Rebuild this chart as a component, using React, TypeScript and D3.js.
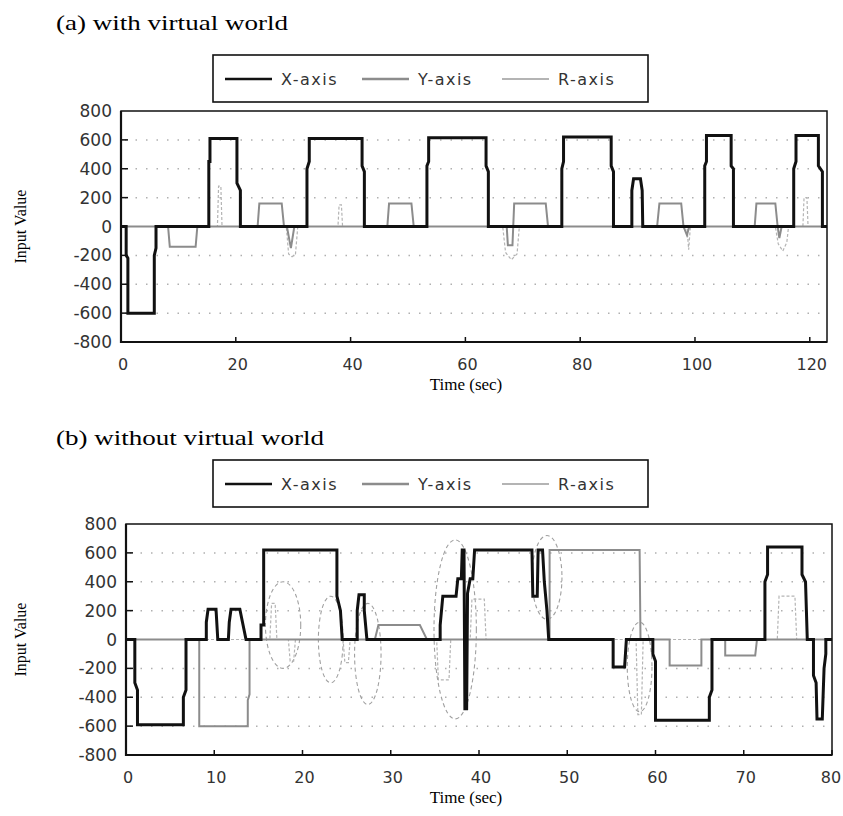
import React, { useEffect, useRef } from "react";
import * as d3 from "d3";

type Pt = [number, number];

const WIDTH = 843;
const HEIGHT = 816;

const valueTicks = [-800, -600, -400, -200, 0, 200, 400, 600, 800];
const dotLevels = [-600, -400, -200, 200, 400, 600];
const legendNames = ["X-axis", "Y-axis", "R-axis"];

// (a) with virtual world
const timeTicksA = [0, 20, 40, 60, 80, 100, 120];
const xSeriesA: Pt[] = [
  [0, 0], [0.9, 0], [0.9, -200], [1.2, -220], [1.2, -600], [5.8, -600], [5.8, -200], [6.1, -150], [6.1, 0],
  [15.3, 0], [15.3, 450], [15.5, 450], [15.5, 610], [20.2, 610], [20.2, 300], [20.8, 250], [20.8, 0],
  [32.4, 0], [32.4, 400], [32.8, 450], [32.8, 610], [42.0, 610], [42.0, 420], [42.4, 380], [42.4, 0],
  [53.3, 0], [53.3, 420], [53.6, 450], [53.6, 615], [63.6, 615], [63.6, 420], [64.0, 380], [64.0, 0],
  [76.8, 0], [76.8, 400], [77.1, 450], [77.1, 620], [85.4, 620], [85.4, 420], [85.8, 380], [85.8, 0],
  [89.0, 0], [89.0, 250], [89.3, 330], [90.5, 330], [90.8, 250], [90.9, 0],
  [101.7, 0], [101.7, 420], [102.0, 450], [102.0, 630], [106.3, 630], [106.3, 420], [106.7, 400], [106.7, 0],
  [117.2, 0], [117.2, 400], [117.6, 450], [117.6, 630], [121.5, 630], [121.5, 420], [122.2, 380], [122.2, 0], [123, 0],
];
const ySeriesA: Pt[] = [
  [0, 0], [8.2, 0], [8.5, -140], [13.0, -140], [13.3, 0],
  [23.8, 0], [24.1, 160], [28.0, 160], [28.4, 0], [28.9, 0], [29.6, -150], [30.2, 0],
  [46.4, 0], [46.7, 160], [50.6, 160], [51.0, 0],
  [67.2, 0], [67.4, -130], [68.2, -130], [68.5, 160], [74.0, 160], [74.4, 0],
  [93.4, 0], [93.8, 160], [97.6, 160], [98.0, 0], [98.6, -60], [99.0, 0],
  [110.4, 0], [110.7, 160], [114.0, 160], [114.4, 0], [114.7, -80], [115.1, 0], [123, 0],
];
const rSeriesA: Pt[] = [
  [0, 0], [16.8, 0], [17.0, 280], [17.4, 280], [17.6, 0],
  [28.8, 0], [29.2, -190], [29.8, -210], [30.4, -190], [30.8, 0],
  [37.8, 0], [38.0, 150], [38.4, 150], [38.6, 0],
  [66.5, 0], [67.0, -180], [68.0, -230], [69.0, -190], [69.4, 0],
  [98.6, 0], [98.9, -160], [99.2, 0],
  [114.0, 0], [114.5, -120], [115.3, -170], [116.0, -110], [116.3, 0],
  [118.8, 0], [119.0, 200], [119.5, 200], [119.7, 0], [123, 0],
];

// (b) without virtual world
const timeTicksB = [0, 10, 20, 30, 40, 50, 60, 70, 80];
const xSeriesB: Pt[] = [
  [0, 0], [1.0, 0], [1.0, -300], [1.3, -350], [1.3, -590], [6.5, -590], [6.5, -400], [6.8, -350], [6.8, 0],
  [9.1, 0], [9.1, 120], [9.3, 210], [10.2, 210], [10.4, 0],
  [11.6, 0], [11.7, 120], [11.9, 210], [12.9, 210], [13.2, 120], [13.6, 0],
  [15.3, 0], [15.3, 100], [15.6, 100], [15.6, 620], [23.9, 620], [23.9, 300], [24.3, 200], [24.5, 0],
  [26.2, 0], [26.2, 200], [26.4, 310], [27.0, 310], [27.0, 200], [27.3, 0],
  [35.6, 0], [35.6, 100], [35.9, 300], [37.4, 300], [37.6, 420], [38.0, 420], [38.1, 620], [38.3, 620],
  [38.4, -480], [38.6, -480], [38.7, 320], [39.0, 420], [39.3, 420], [39.5, 620], [46.0, 620],
  [46.1, 300], [46.6, 300], [46.7, 620], [47.2, 620], [47.4, 400], [47.7, 200], [47.9, 0],
  [55.2, 0], [55.2, -190], [56.5, -190], [56.7, 0],
  [59.7, 0], [59.7, -100], [60.0, -150], [60.0, -560], [66.1, -560], [66.1, -400], [66.4, -350], [66.4, 0],
  [72.4, 0], [72.4, 400], [72.7, 450], [72.7, 640], [76.6, 640], [76.6, 450], [77.0, 400], [77.2, 0],
  [77.9, 0], [77.9, -250], [78.2, -300], [78.3, -550], [78.9, -550], [79.1, -200], [79.3, -100], [79.3, 0], [80, 0],
];
const ySeriesB: Pt[] = [
  [0, 0], [8.3, 0], [8.3, -600], [13.8, -600], [13.8, -420], [14.0, -380], [14.0, 0],
  [28.2, 0], [28.6, 100], [33.3, 100], [34.1, 0],
  [48.0, 0], [48.0, 620], [58.2, 620], [58.3, 0],
  [61.6, 0], [61.6, -180], [65.2, -180], [65.2, 0],
  [67.9, 0], [67.9, -110], [71.3, -110], [71.5, 0], [80, 0],
];
const rSeriesB: Pt[] = [
  [0, 0], [16.3, 0], [16.5, 250], [16.9, 250], [17.1, 0],
  [18.4, 0], [18.6, -150], [19.0, -150], [19.2, 0],
  [24.6, 0], [24.8, -160], [25.2, -160], [25.4, 0],
  [35.2, 0], [35.4, -280], [36.6, -280], [36.8, 0],
  [39.0, 0], [39.2, 280], [40.6, 280], [40.8, 0],
  [57.8, 0], [58.0, -520], [58.4, -520], [58.6, 0],
  [73.8, 0], [74.0, 300], [75.8, 300], [76.0, 0], [80, 0],
];
// dashed ellipses drawn round the R-axis moves: [centre t, centre value, radius t, radius value]
const ellipsesB: [number, number, number, number][] = [
  [17.8, 100, 2.0, 300],
  [23.2, 0, 1.4, 300],
  [27.4, -100, 1.5, 350],
  [37.3, 70, 2.4, 620],
  [47.7, 430, 1.7, 290],
  [58.2, -190, 1.4, 310],
];

const panels = [
  {
    title: "(a) with virtual world", titleY: 30, titleLen: 232,
    legendTop: 55, left: 121, right: 827, top: 111, bottom: 342, tMax: 123,
    timeTicks: timeTicksA, series: [xSeriesA, ySeriesA, rSeriesA], ellipses: [] as [number, number, number, number][],
  },
  {
    title: "(b) without virtual world", titleY: 445, titleLen: 268,
    legendTop: 460, left: 126, right: 832, top: 524, bottom: 755, tMax: 80,
    timeTicks: timeTicksB, series: [xSeriesB, ySeriesB, rSeriesB], ellipses: ellipsesB,
  },
];

const seriesStyle = [
  { color: "#111", width: 3, dash: null },
  { color: "#8c8c8c", width: 2, dash: null },
  { color: "#b4b4b4", width: 1.2, dash: "3,2" },
];

const serif = "'Liberation Serif', 'Times New Roman', serif";
const sans = "'DejaVu Sans', Arial, sans-serif";

function drawPanel(svg: d3.Selection<SVGSVGElement, unknown, null, undefined>, p: typeof panels[0]) {
  const x = d3.scaleLinear().domain([0, p.tMax]).range([p.left, p.right]);
  const y = d3.scaleLinear().domain([-800, 800]).range([p.bottom, p.top]);

  // title
  svg.append("text")
    .attr("x", 56).attr("y", p.titleY)
    .attr("font-family", serif).attr("font-size", 21)
    .attr("textLength", p.titleLen).attr("lengthAdjust", "spacingAndGlyphs")
    .text(p.title);

  // legend
  const lg = svg.append("g");
  lg.append("rect")
    .attr("x", 213).attr("y", p.legendTop).attr("width", 435).attr("height", 47)
    .attr("fill", "none").attr("stroke", "#111").attr("stroke-width", 1.6);
  const ly = p.legendTop + 24;
  const lineX = [225, 362, 502];
  legendNames.forEach((name, i) => {
    const st = seriesStyle[i];
    lg.append("line")
      .attr("x1", lineX[i]).attr("x2", lineX[i] + 47).attr("y1", ly).attr("y2", ly)
      .attr("stroke", st.color).attr("stroke-width", i === 0 ? 2.5 : st.width + 0.6);
    lg.append("text")
      .attr("x", lineX[i] + 56).attr("y", ly + 6)
      .attr("font-family", sans).attr("font-size", 16).attr("letter-spacing", 1.5)
      .attr("fill", "#333")
      .text(name);
  });

  // dotted level marks
  svg.append("g").selectAll("line")
    .data(dotLevels)
    .enter().append("line")
    .attr("x1", p.left + 4).attr("x2", p.right - 4)
    .attr("y1", d => y(d)).attr("y2", d => y(d))
    .attr("stroke", "#b0b0b0").attr("stroke-width", 1.5)
    .attr("stroke-dasharray", "1.5,9");

  // frame
  svg.append("rect")
    .attr("x", p.left).attr("y", p.top)
    .attr("width", p.right - p.left).attr("height", p.bottom - p.top)
    .attr("fill", "none").attr("stroke", "#111").attr("stroke-width", 1.5);
  svg.append("path")
    .attr("d", `M${p.left},${p.top}V${p.bottom}H${p.right}`)
    .attr("fill", "none").attr("stroke", "#111").attr("stroke-width", 2.2);

  // y ticks + labels
  const yAxis = svg.append("g");
  yAxis.selectAll("line")
    .data(valueTicks.filter(v => v !== 0 && Math.abs(v) !== 800))
    .enter().append("line")
    .attr("x1", p.left).attr("x2", p.left + 7)
    .attr("y1", d => y(d)).attr("y2", d => y(d))
    .attr("stroke", "#111").attr("stroke-width", 1.5);
  yAxis.selectAll("text")
    .data(valueTicks)
    .enter().append("text")
    .attr("x", p.left - 9).attr("y", d => y(d) + 6)
    .attr("text-anchor", "end")
    .attr("font-family", sans).attr("font-size", 17).attr("fill", "#333")
    .text(d => (d < 0 ? "-" + Math.abs(d) : String(d)));

  // x ticks + labels
  const xAxis = svg.append("g");
  xAxis.selectAll("line")
    .data(p.timeTicks.slice(1))
    .enter().append("line")
    .attr("x1", d => x(d)).attr("x2", d => x(d))
    .attr("y1", p.bottom).attr("y2", p.bottom - 5)
    .attr("stroke", "#111").attr("stroke-width", 1.5);
  xAxis.selectAll("text")
    .data(p.timeTicks)
    .enter().append("text")
    .attr("x", d => Math.min(x(d) + 2, WIDTH - 12)).attr("y", p.bottom + 28)
    .attr("text-anchor", "middle")
    .attr("font-family", sans).attr("font-size", 16).attr("fill", "#333")
    .text(d => String(d));

  // axis titles
  svg.append("text")
    .attr("transform", `translate(26,${(p.top + p.bottom) / 2}) rotate(-90)`)
    .attr("text-anchor", "middle")
    .attr("font-family", serif).attr("font-size", 16)
    .text("Input Value");
  svg.append("text")
    .attr("x", 466).attr("y", p.bottom + 48)
    .attr("text-anchor", "middle")
    .attr("font-family", serif).attr("font-size", 17)
    .text("Time (sec)");

  // annotation ellipses
  svg.append("g").selectAll("ellipse")
    .data(p.ellipses)
    .enter().append("ellipse")
    .attr("cx", d => x(d[0])).attr("cy", d => y(d[1]))
    .attr("rx", d => x(d[2]) - x(0)).attr("ry", d => y(0) - y(d[3]))
    .attr("fill", "none").attr("stroke", "#a0a0a0").attr("stroke-width", 1.1)
    .attr("stroke-dasharray", "4,3");

  // series, drawn R first so X stays on top
  const line = d3.line<Pt>().x(d => x(d[0])).y(d => y(d[1]));
  [2, 1, 0].forEach(i => {
    const st = seriesStyle[i];
    svg.append("path")
      .datum(p.series[i])
      .attr("d", line)
      .attr("fill", "none")
      .attr("stroke", st.color)
      .attr("stroke-width", st.width)
      .attr("stroke-linejoin", "miter")
      .attr("stroke-dasharray", st.dash);
  });
}

export default function App() {
  const ref = useRef<SVGSVGElement>(null);

  useEffect(() => {
    const svg = d3.select(ref.current!);
    svg.selectAll("*").remove();
    panels.forEach(p => drawPanel(svg, p));
  }, []);

  return (
    <svg
      ref={ref}
      width={WIDTH}
      height={HEIGHT}
      style={{ position: "absolute", left: 0, top: 0, background: "#fff" }}
    />
  );
}
